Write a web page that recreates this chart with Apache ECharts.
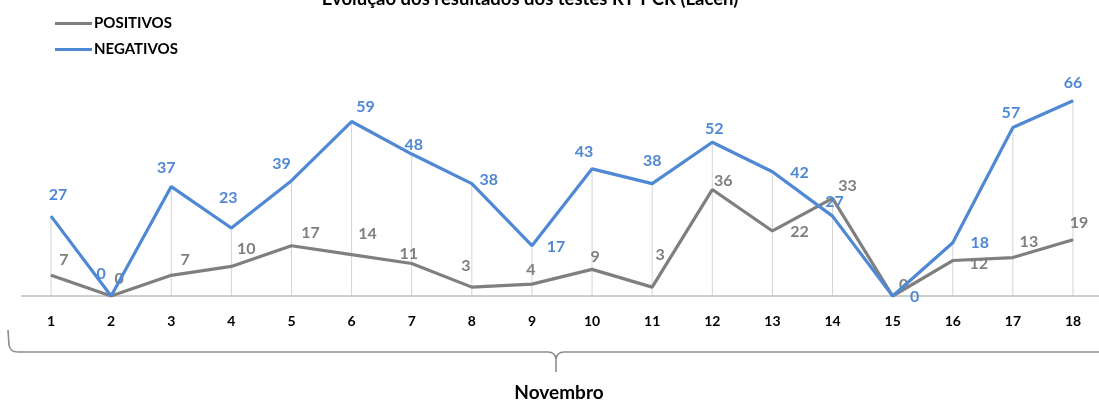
<!DOCTYPE html>
<html><head><meta charset="utf-8">
<script src="https://cdn.jsdelivr.net/npm/echarts@6/dist/echarts.min.js"></script>
<style>html,body{margin:0;padding:0;background:#fff}#c{width:1099px;height:401px}</style>
</head><body><div id="c"></div>
<script>
var titleText = 'Evolução dos resultados dos testes RT-PCR (Lacen)';
var axisName = 'Novembro';
var categories = ['1','2','3','4','5','6','7','8','9','10','11','12','13','14','15','16','17','18'];
var positivos = [7,0,7,10,17,14,11,3,4,9,3,36,22,33,0,12,13,19];
var negativos = [27,0,37,23,39,59,48,38,17,43,38,52,42,27,0,18,57,66];

// label placement offsets (style only)
var posOff = [[13,-15],[8,-17],[14,-15],[15,-18],[19,-13],[16,-21],[-3,-10],[-6,-21],[-1,-14],[3,-13],[8,-32],[11,-9],[27,1],[15,-13],[11,-11],[26,3],[16,-16],[6,-17]];
var negOff = [[7,-21],[-10,-22],[-5,-19],[-3,-30],[-10,-17],[14,-15],[2,-9],[17,-4],[24,1],[-8,-17],[0,-23],[2,-13],[27,1],[2,-14],[22,1],[27,0],[-2,-15],[0,-18]];

var FONT = 'Lato';
var GRAY = '#7f7f7f', BLUE = '#4f88d4';

function withLabels(vals, offs){
  return vals.map(function(v,i){ return {value:v, label:{offset:offs[i]}}; });
}
var drop = positivos.map(function(v,i){ return Math.max(v, negativos[i]); });

var braceStyle = {stroke:'#8c8c8c', lineWidth:1.6, fill:null};

var chart = echarts.init(document.getElementById('c'));
chart.setOption({
  animation:false,
  textStyle:{fontFamily:FONT},
  legend:{
    orient:'vertical', left:50, top:11, itemWidth:37, itemHeight:3, itemGap:11,
    icon:'rect',
    textStyle:{fontFamily:FONT, fontWeight:'bold', fontSize:15, color:'#000', padding:[0,0,0,-3]},
    data:['POSITIVOS','NEGATIVOS']
  },
  grid:{left:51, right:26, top:89, height:207},
  xAxis:{
    type:'category', data:categories, boundaryGap:false,
    axisLine:{show:false},
    axisTick:{show:false},
    axisLabel:{fontFamily:FONT, fontWeight:'bold', fontSize:14, color:'#000', margin:18}
  },
  yAxis:{type:'value', min:0, max:70, show:false, splitLine:{show:false}},
  series:[
    {type:'bar', name:'drop', data:drop, barWidth:1, silent:true, z:1,
     itemStyle:{color:'#d4d4d4'}, legendHoverLink:false},
    {type:'line', name:'POSITIVOS', data:withLabels(positivos,posOff), z:3,
     symbol:'circle', symbolSize:1, showSymbol:true,
     lineStyle:{color:GRAY, width:3.2}, itemStyle:{color:GRAY},
     label:{show:true, position:'inside', fontFamily:FONT, fontSize:16, color:GRAY, fontWeight:'bold'}},
    {type:'line', name:'NEGATIVOS', data:withLabels(negativos,negOff), z:4,
     symbol:'circle', symbolSize:1, showSymbol:true,
     lineStyle:{color:BLUE, width:3.2}, itemStyle:{color:BLUE},
     label:{show:true, position:'inside', fontFamily:FONT, fontSize:16, color:BLUE, fontWeight:'bold'}}
  ],
  graphic:[
    {type:'line', shape:{x1:21,y1:296,x2:1099,y2:296}, style:{stroke:'#bfbfbf', lineWidth:1.5}, z:2},
    {type:'text', x:530, y:-1, style:{text:titleText, font:'bold 18.5px '+FONT, fill:'#000', textAlign:'center', textVerticalAlign:'middle'}},
    {type:'polyline', shape:{points:[[8,330],[9,345]]}, style:braceStyle},
    {type:'bezierCurve', shape:{x1:9,y1:345,x2:18,y2:352,cpx1:10,cpy1:352}, style:braceStyle},
    {type:'polyline', shape:{points:[[18,352],[548,352]]}, style:braceStyle},
    {type:'bezierCurve', shape:{x1:548,y1:352,x2:556,y2:359,cpx1:555,cpy1:352}, style:braceStyle},
    {type:'polyline', shape:{points:[[556,359],[556,372]]}, style:braceStyle},
    {type:'bezierCurve', shape:{x1:556,y1:359,x2:564,y2:352,cpx1:557,cpy1:352}, style:braceStyle},
    {type:'polyline', shape:{points:[[564,352],[1099,352]]}, style:braceStyle},
    {type:'text', x:559, y:393, style:{text:axisName, font:'bold 19px '+FONT, fill:'#000', textAlign:'center', textVerticalAlign:'middle'}}
  ]
});
</script></body></html>
